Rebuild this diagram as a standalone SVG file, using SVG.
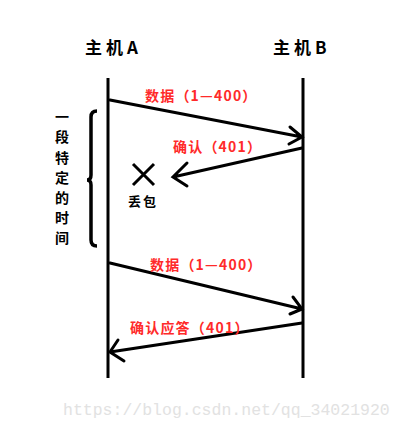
<svg xmlns="http://www.w3.org/2000/svg" width="405" height="430" viewBox="0 0 405 430">
<style>
.life{stroke:#000;stroke-width:3;fill:none}
.msg{stroke:#000;stroke-width:3;fill:none;stroke-linecap:round}
.t{font-family:"Noto Sans CJK SC","Liberation Sans",sans-serif;font-weight:bold}
.red{fill:#ff2a2a;font-size:14px;letter-spacing:1.2px}
.blk{fill:#000}
.wm{font-family:"Liberation Mono",monospace;fill:#e2e2e2;font-size:16.5px}
</style>
<rect width="405" height="430" fill="#fff"/>
<g id="hostA">
<text class="t blk" x="85" y="54" font-size="17" letter-spacing="4">主机A</text>
<line class="life" x1="108" y1="78" x2="108" y2="378"/>
</g>
<g id="hostB">
<text class="t blk" x="273" y="54" font-size="17" letter-spacing="4">主机B</text>
<line class="life" x1="303" y1="78" x2="303" y2="378"/>
</g>
<g id="period">
<path d="M97,111 Q91,111 91,117 L91,175 Q91,180 87,180 Q91,180 91,185 L91,240 Q91,246 97,246" stroke="#000" stroke-width="3.5" fill="none"/>
<text class="t blk" font-size="14" text-anchor="middle">
<tspan x="62" y="122">一</tspan><tspan x="62" y="142">段</tspan><tspan x="62" y="163">特</tspan><tspan x="62" y="183">定</tspan><tspan x="62" y="203">的</tspan><tspan x="62" y="223">时</tspan><tspan x="62" y="243">间</tspan>
</text>
</g>
<g id="loss">
<path d="M133,164 L154,185 M154,164 L133,185" stroke="#000" stroke-width="3" fill="none"/>
<text class="t blk" x="128" y="206" font-size="13" letter-spacing="2">丢包</text>
</g>
<g id="connectors">
<path class="msg" d="M110,100 L302,137 M290,127 L302,137 L289,144"/>
<path class="msg" d="M302,148 L173,177 M187,163 L173,177 L187,186"/>
<path class="msg" d="M110,263 L302,309 M293,297 L302,309 L290,314"/>
<path class="msg" d="M302,323 L110,352 M118,340 L110,352 L124,361"/>
</g>
<g id="labels">
<text class="t red" x="145" y="101">数据（1—400）</text>
<text class="t red" x="173" y="152">确认（401）</text>
<text class="t red" x="150" y="270">数据（1—400）</text>
<text class="t red" x="130" y="333">确认应答（401）</text>
</g>
<text class="wm" x="63" y="415">https://blog.csdn.net/qq_34021920</text>
</svg>
